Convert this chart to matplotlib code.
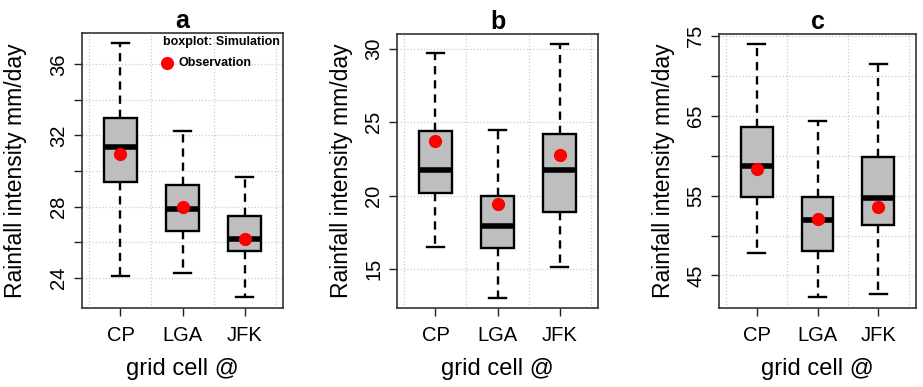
"""Simulated vs observed rainfall intensity at three grid cells (CP, LGA, JFK)."""

import matplotlib
matplotlib.use("Agg")
import matplotlib.pyplot as plt

plt.rcParams["font.family"] = ["Liberation Sans", "DejaVu Sans"]

# Station labels shared by all panels
sites = ["CP", "LGA", "JFK"]
panel_titles = ["a", "b", "c"]

# Box statistics of the simulation ensemble
# order per site: whisker low, q1, median, q3, whisker high
sim_a = [
    [24.1, 29.4, 31.35, 33.0, 37.2],
    [24.25, 26.65, 27.85, 29.2, 32.25],
    [22.9, 25.5, 26.2, 27.45, 29.65],
]
sim_b = [
    [16.5, 20.2, 21.75, 24.4, 29.75],
    [13.05, 16.4, 17.95, 19.95, 24.5],
    [15.15, 18.9, 21.75, 24.2, 30.35],
]
sim_c = [
    [47.8, 54.85, 58.65, 63.6, 74.0],
    [42.3, 48.0, 51.95, 54.8, 64.4],
    [42.7, 51.3, 54.7, 59.9, 71.5],
]

# Observed values (red dots)
obs_a = [30.95, 27.98, 26.18]
obs_b = [23.75, 19.45, 22.8]
obs_c = [58.3, 52.05, 53.6]

# y ticks (grid at every tick) and the subset that carries labels
ticks_a = [24, 26, 28, 30, 32, 34, 36]
labels_a = [24, 28, 32, 36]
ticks_b = [15, 20, 25, 30]
labels_b = [15, 20, 25, 30]
ticks_c = [45, 50, 55, 60, 65, 70, 75]
labels_c = [45, 55, 65, 75]

ylims = [(22.3, 37.76), (12.34, 31.02), (40.92, 75.25)]

# axes rectangles in pixels: left, top, right, bottom
boxes_px = [(82, 33, 283, 308), (397, 34, 598, 308), (719, 34, 916, 308)]
ylabel_pads = [16, 8, 8]
W, H = 923, 387

fig = plt.figure(figsize=(W / 100, H / 100), dpi=100)

panels = zip([sim_a, sim_b, sim_c], [obs_a, obs_b, obs_c],
             [ticks_a, ticks_b, ticks_c], [labels_a, labels_b, labels_c])
for i, (sim, obs, ticks, shown) in enumerate(panels):
    l, t, r, b = boxes_px[i]
    ax = fig.add_axes([l / W, (H - b) / H, (r - l) / W, (b - t) / H])

    stats = [
        {"whislo": s[0], "q1": s[1], "med": s[2], "q3": s[3], "whishi": s[4]}
        for s in sim
    ]
    ax.bxp(
        stats,
        positions=[1, 2, 3],
        widths=0.52,
        capwidths=0.27,
        showfliers=False,
        patch_artist=True,
        boxprops=dict(facecolor="#BEBEBE", edgecolor="black", linewidth=1.7),
        medianprops=dict(color="black", linewidth=4.0, solid_capstyle="butt"),
        whiskerprops=dict(color="black", linewidth=1.7, linestyle=(0, (3.5, 2.5))),
        capprops=dict(color="black", linewidth=1.7),
        zorder=3,
    )
    ax.plot([1, 2, 3], obs, "o", color="red", markersize=9.5, zorder=5,
            markeredgewidth=0)

    ax.set_yticks(ticks)
    ax.set_yticklabels([str(v) if v in shown else "" for v in ticks])
    ax.set_ylim(*ylims[i])
    ax.set_xlim(0.38, 3.62)
    ax.set_xticks([1, 2, 3])
    ax.set_xticklabels(sites)

    # dotted background grid
    for v in ticks:
        ax.axhline(v, color="#CCCCCC", linestyle=":", linewidth=0.9, zorder=0)
    for x in [0.5, 1.5, 2.5, 3.5]:
        ax.axvline(x, color="#CCCCCC", linestyle=":", linewidth=0.9, zorder=0)

    ax.tick_params(axis="both", labelsize=14.5, length=6, width=1.0,
                   colors="#222222", labelcolor="black")
    ax.tick_params(axis="x", pad=7)
    ax.tick_params(axis="y", labelrotation=90, pad=4)
    for lab in ax.get_yticklabels():
        lab.set_va("center")

    for sp in ax.spines.values():
        sp.set_linewidth(1.2)
        sp.set_color("#333333")

    ax.set_title(panel_titles[i], fontsize=18, fontweight="bold", pad=3)
    ax.set_ylabel("Rainfall intensity mm/day", fontsize=16.5,
                  labelpad=ylabel_pads[i])
    ax.set_xlabel("grid cell @", fontsize=17, labelpad=9)

    if i == 0:
        ax.text(0.985, 0.967, "boxplot: Simulation", transform=ax.transAxes,
                ha="right", va="center", fontsize=9, fontweight="bold")
        ax.plot([0.421], [0.891], "o", color="red", markersize=9.5,
                markeredgewidth=0, transform=ax.transAxes)
        ax.text(0.478, 0.891, "Observation", transform=ax.transAxes,
                ha="left", va="center", fontsize=9, fontweight="bold")

fig.savefig("out.png", dpi=100)
